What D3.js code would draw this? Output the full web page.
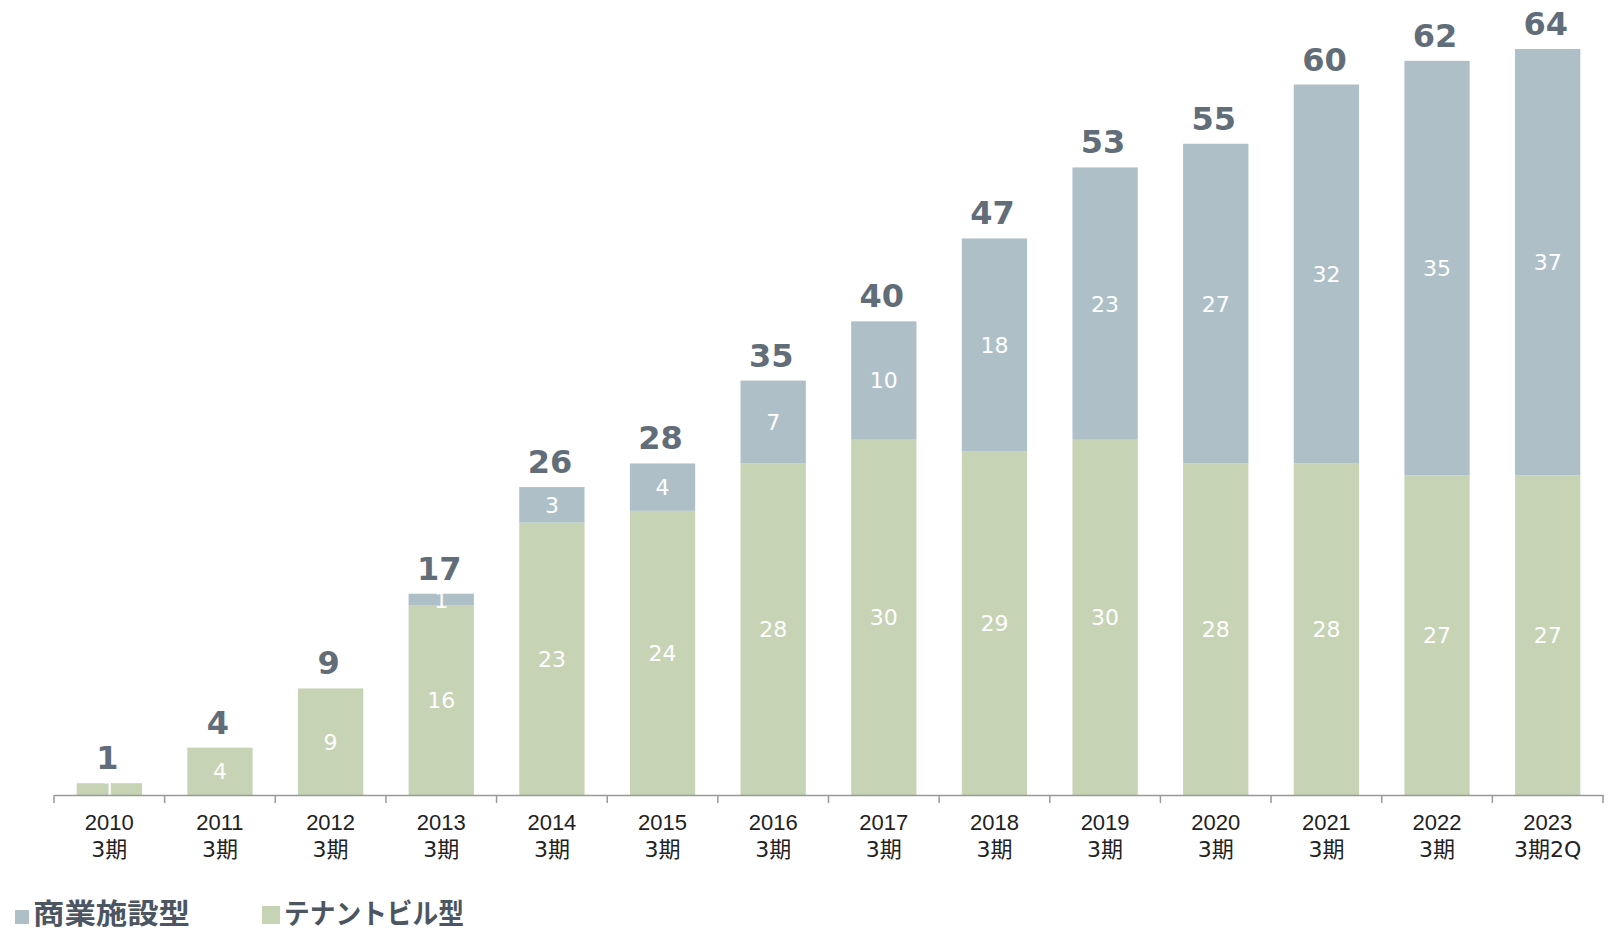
<!DOCTYPE html>
<html>
<head>
<meta charset="utf-8">
<script src="https://cdn.jsdelivr.net/npm/d3@7"></script>
<style>
  body { margin: 0; background: #fff; }
  svg { display: block; }
</style>
</head>
<body>
<div id="chart"></div>
<script>
// data
const years = ["2010", "2011", "2012", "2013", "2014", "2015", "2016", "2017", "2018", "2019", "2020", "2021", "2022", "2023"];
const periods = ["3期", "3期", "3期", "3期", "3期", "3期", "3期", "3期", "3期", "3期", "3期", "3期", "3期", "3期2Q"];
const tenant = [1, 4, 9, 16, 23, 24, 28, 30, 29, 30, 28, 28, 27, 27];
const commercial = [0, 0, 0, 1, 3, 4, 7, 10, 18, 23, 27, 32, 35, 37];

const width = 1612, height = 934;
const colTenant = "#c6d3b5", colCommercial = "#aebfc8";

const rows = years.map((y, i) => ({
    key: y, period: periods[i], tenant: tenant[i], commercial: commercial[i]
}));

const svg = d3.select("#chart").append("svg")
    .attr("width", width)
    .attr("height", height)
    .style("font-family", "'DejaVu Sans', Verdana, sans-serif");

const x = d3.scaleBand()
    .domain(years)
    .range([54, 1603])
    .paddingInner(0.41)
    .paddingOuter(0.205);

// value axis tops out at 63, so the last bar gets clipped like in the original
const y = d3.scaleLinear()
    .domain([0, 63])
    .range([795, 49])
    .clamp(true);

const stack = d3.stack().keys(["tenant", "commercial"]);
const series = stack(rows);
const color = d3.scaleOrdinal().domain(["tenant", "commercial"]).range([colTenant, colCommercial]);

// bars
const layer = svg.selectAll(".layer")
    .data(series)
    .join("g")
    .attr("class", "layer")
    .attr("fill", d => color(d.key));

layer.selectAll("rect")
    .data(d => d.filter(s => s[1] > s[0]))
    .join("rect")
    .attr("x", d => x(d.data.key))
    .attr("width", x.bandwidth())
    .attr("y", d => y(d[1]))
    .attr("height", d => y(d[0]) - y(d[1]));

// segment labels (white)
layer.selectAll("text")
    .data(d => d.filter(s => s[1] > s[0]))
    .join("text")
    .attr("x", d => x(d.data.key) + x.bandwidth() / 2)
    .attr("y", d => (y(d[0]) + y(d[1])) / 2)
    .attr("dy", "0.36em")
    .attr("text-anchor", "middle")
    .attr("fill", "#fff")
    .style("font-size", "22px")
    .text(d => d[1] - d[0]);

// totals
svg.selectAll(".total")
    .data(rows)
    .join("text")
    .attr("class", "total")
    .attr("x", d => x(d.key) + x.bandwidth() / 2 - 2)
    .attr("y", d => y(d.tenant + d.commercial) - 14)
    .attr("text-anchor", "middle")
    .attr("fill", "#616d79")
    .style("font-size", "32px")
    .style("font-weight", "bold")
    .text(d => d.tenant + d.commercial);

// x axis
const axis = svg.append("g")
    .attr("transform", `translate(0,${y(0)})`)
    .call(d3.axisBottom(x).tickSize(0).tickPadding(0));

axis.select(".domain").attr("stroke", "#999").attr("stroke-width", 1.5);
axis.selectAll(".tick text").remove();

const bounds = years.map(k => x(k) - x.step() * x.paddingInner() / 2);
bounds.push(x.range()[1]);
axis.selectAll(".sep")
    .data(bounds)
    .join("line")
    .attr("class", "sep")
    .attr("x1", d => d).attr("x2", d => d)
    .attr("y1", 0).attr("y2", 8)
    .attr("stroke", "#999")
    .attr("stroke-width", 1.5);

const lbl = axis.selectAll(".lbl")
    .data(rows)
    .join("text")
    .attr("class", "lbl")
    .attr("x", d => x(d.key) + x.bandwidth() / 2)
    .attr("text-anchor", "middle")
    .attr("fill", "#222")
    .style("font-size", "22px");

lbl.append("tspan")
    .attr("x", d => x(d.key) + x.bandwidth() / 2)
    .attr("y", 35)
    .text(d => d.key);
lbl.append("tspan")
    .attr("x", d => x(d.key) + x.bandwidth() / 2)
    .attr("y", 62)
    .style("font-family", "'DejaVu Sans', 'Noto Sans CJK JP', sans-serif")
    .text(d => d.period);

// legend
const legendItems = [
    { label: "商業施設型", color: colCommercial, x: 15, sq: 14, len: 157 },
    { label: "テナントビル型", color: colTenant, x: 262, sq: 18, len: 180 }
];
const lg = svg.selectAll(".legend")
    .data(legendItems)
    .join("g")
    .attr("class", "legend")
    .attr("transform", d => `translate(${d.x},0)`);

lg.append("rect")
    .attr("x", 0)
    .attr("y", d => 924 - d.sq)
    .attr("width", d => d.sq)
    .attr("height", d => d.sq)
    .attr("fill", d => d.color);

lg.append("text")
    .attr("x", d => d.sq + 4)
    .attr("y", 924)
    .attr("fill", "#4b5662")
    .attr("textLength", d => d.len)
    .attr("lengthAdjust", "spacingAndGlyphs")
    .style("font-family", "'Noto Sans CJK JP', sans-serif")
    .style("font-size", "28px")
    .style("font-weight", "bold")
    .text(d => d.label);
</script>
</body>
</html>
